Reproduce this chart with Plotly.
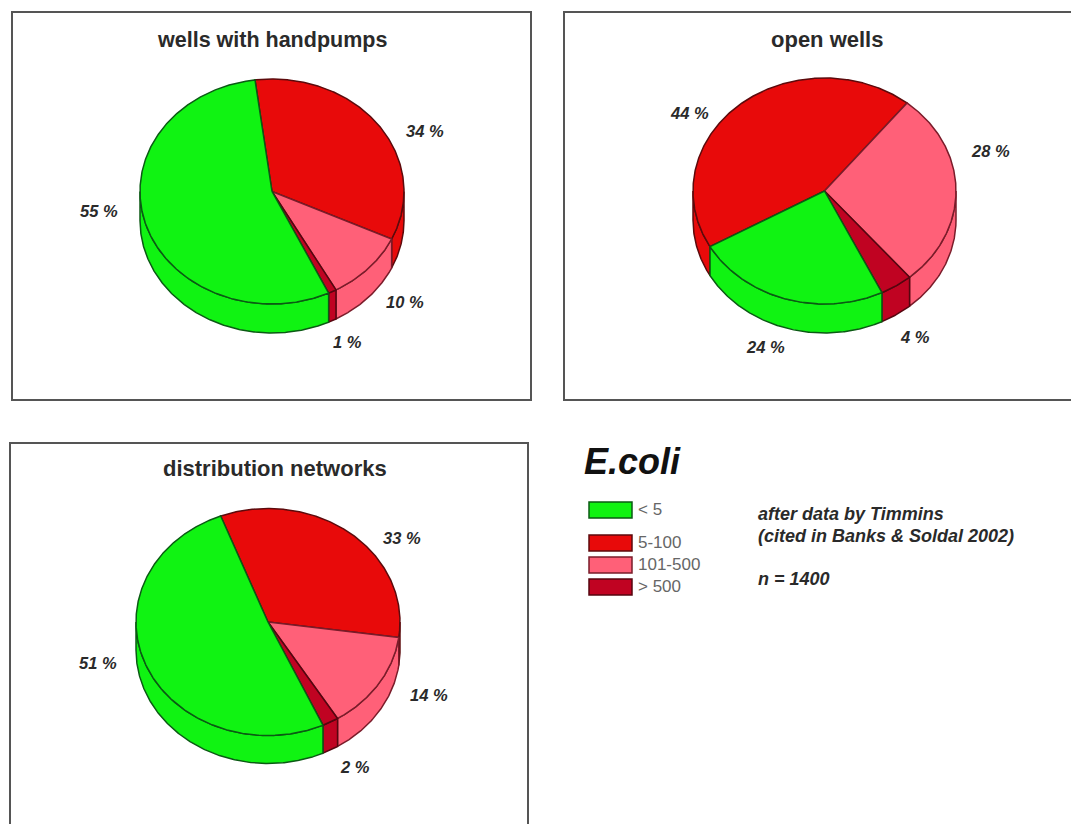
import numpy as np
import plotly.graph_objects as go

# ---------- data ----------
categories = ["5-100", "101-500", "> 500", "< 5"]
legend_order = ["< 5", "5-100", "101-500", "> 500"]
panel_titles = ["wells with handpumps", "open wells", "distribution networks"]
handpumps = [34, 10, 1, 55]
open_wells = [44, 28, 4, 24]
networks = [33, 14, 2, 51]
label_texts = [["34 %", "10 %", "1 %", "55 %"],
               ["44 %", "28 %", "4 %", "24 %"],
               ["33 %", "14 %", "2 %", "51 %"]]
notes = ["after data by Timmins", "(cited in Banks & Soldal 2002)", "n = 1400"]

# ---------- styling and layout ----------
W, H = 1071, 824
fills = {"< 5": "#10F312", "5-100": "#E80A0A", "101-500": "#FF6078", "> 500": "#C00322"}
edges = {"< 5": "#0B5A14", "5-100": "#5C0A0C", "101-500": "#7A1C2A", "> 500": "#55060F"}
pies = [
    dict(v=handpumps, cx=272, cy=191.5, rx=132, ry=112.5, d=29, start=-7.4),
    dict(v=open_wells, cx=824.5, cy=191, rx=131.5, ry=113, d=29, start=-119.5),
    dict(v=networks, cx=268, cy=622, rx=132, ry=113.5, d=28, start=-21),
]
label_pos = [[(425, 131), (405, 302), (347, 342), (99, 211)],
             [(689, 113), (990, 151), (915, 337), (765, 347)],
             [(402, 538), (429, 695), (355, 767), (98, 663)]]
title_pos = [(272, 40), (827, 39), (275, 468)]
title_size = [21.5, 22, 22]
frames = [(12, 12, 531, 400), (564, 12, 1090, 400), (10, 443, 528, 850)]
swatch_y = [(502, 518), (535, 551), (557, 573), (579, 595)]

FONT = "Liberation Sans"
fig = go.Figure()


def arc(p, a, b):
    t = np.radians(np.linspace(a, b, max(int(abs(b - a) * 2), 2)))
    return p["cx"] + p["rx"] * np.sin(t), p["cy"] - p["ry"] * np.cos(t)


def add_poly(x, y, cat):
    fig.add_trace(go.Scatter(x=x, y=y, mode="lines", fill="toself", fillcolor=fills[cat],
                             line=dict(color=edges[cat], width=1.5), hoverinfo="skip",
                             showlegend=False))


for p in pies:
    bounds = p["start"] + np.concatenate([[0], np.cumsum(p["v"])]) * 3.6
    # side wall: only the front half of the rim is visible
    for i, cat in enumerate(categories):
        for shift in (-360, 0, 360):
            a = max(bounds[i], 90 + shift)
            b = min(bounds[i + 1], 270 + shift)
            if b > a:
                x, y = arc(p, a, b)
                add_poly(np.r_[x, x[::-1], x[0]], np.r_[y, y[::-1] + p["d"], y[0]], cat)
    # top face
    for i, cat in enumerate(categories):
        x, y = arc(p, bounds[i], bounds[i + 1])
        add_poly(np.r_[p["cx"], x, p["cx"]], np.r_[p["cy"], y, p["cy"]], cat)

shapes = [dict(type="rect", xref="x", yref="y", x0=a, y0=b, x1=c, y1=d,
               line=dict(color="#555555", width=2), layer="below") for a, b, c, d in frames]
for name, (y0, y1) in zip(legend_order, swatch_y):
    shapes.append(dict(type="rect", xref="x", yref="y", x0=589, x1=632, y0=y0, y1=y1,
                       fillcolor=fills[name], line=dict(color=edges[name], width=1.5)))

ann = []


def text(x, y, s, size, anchor="center", color="#2A2A2A", bold=True, italic=False):
    if bold:
        s = f"<b>{s}</b>"
    if italic:
        s = f"<i>{s}</i>"
    ann.append(dict(x=x, y=y, xref="x", yref="y", text=s, showarrow=False, xanchor=anchor,
                    yanchor="middle", font=dict(family=FONT, size=size, color=color)))


for t, (x, y), s in zip(panel_titles, title_pos, title_size):
    text(x, y, t, s)
for labels, positions in zip(label_texts, label_pos):
    for t, (x, y) in zip(labels, positions):
        text(x, y, t, 16.5, italic=True)
text(582, 461, "E.coli", 36, anchor="left", color="#111111", italic=True)
for name, (y0, y1) in zip(legend_order, swatch_y):
    text(636, (y0 + y1) / 2 - 1, name.replace("<", "&lt;").replace(">", "&gt;"), 17,
         anchor="left", color="#666666", bold=False)
for t, y in zip(notes, (514, 536, 579)):
    text(756, y, t.replace("&", "&amp;"), 18, anchor="left", color="#2A2A2A", italic=True)

fig.update_layout(
    width=W, height=H, margin=dict(l=0, r=0, t=0, b=0),
    paper_bgcolor="white", plot_bgcolor="white", showlegend=False,
    xaxis=dict(range=[0, W], visible=False, fixedrange=True),
    yaxis=dict(range=[H, 0], visible=False, fixedrange=True),
    shapes=shapes, annotations=ann,
)
fig.write_html("out.html", config={"displayModeBar": False}, default_width=f"{W}px",
               default_height=f"{H}px",
               post_script="document.body.style.margin='0';document.body.style.overflow='hidden';")
